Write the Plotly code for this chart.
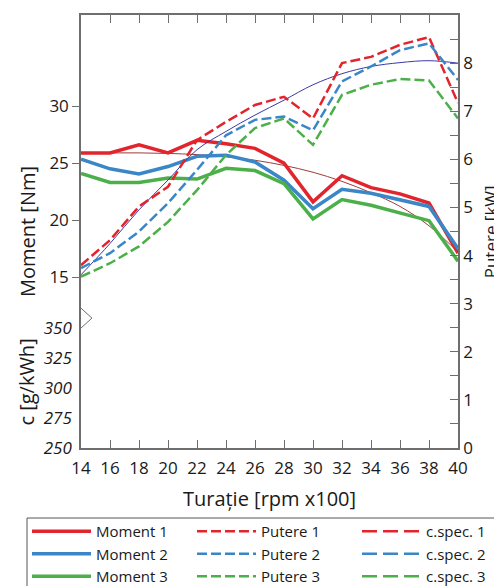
import plotly.graph_objects as go

# turatie [rpm x100]
turatie = [14, 16, 18, 20, 22, 24, 26, 28, 30, 32, 34, 36, 38, 40]

moment_1 = [25.9, 25.9, 26.6, 25.9, 27.0, 26.7, 26.3, 25.0, 21.6, 23.9, 22.85, 22.3, 21.5, 17.1]
moment_2 = [25.35, 24.5, 24.05, 24.7, 25.6, 25.7, 25.1, 23.5, 21.0, 22.7, 22.35, 21.8, 21.2, 17.5]
moment_3 = [24.1, 23.3, 23.3, 23.7, 23.6, 24.55, 24.35, 23.2, 20.1, 21.8, 21.3, 20.6, 19.95, 16.4]
moment_trend = [25.9, 25.9, 25.9, 25.85, 25.75, 25.55, 25.25, 24.8, 24.2, 23.4, 22.4, 21.2, 19.5, 17.2]

putere_1 = [3.8, 4.32, 5.02, 5.43, 6.4, 6.78, 7.13, 7.3, 6.85, 8.0, 8.13, 8.38, 8.54, 7.17]
putere_2 = [3.74, 4.05, 4.5, 5.09, 5.78, 6.5, 6.82, 6.89, 6.6, 7.62, 7.93, 8.27, 8.41, 7.65]
putere_3 = [3.56, 3.84, 4.19, 4.7, 5.36, 6.09, 6.65, 6.85, 6.3, 7.34, 7.55, 7.67, 7.64, 6.85]
putere_trend = [3.6, 4.25, 4.95, 5.57, 6.2, 6.58, 6.92, 7.23, 7.55, 7.78, 7.93, 8.01, 8.05, 8.0]

cspec_1 = [286.8, 291, 276, 272.3, 281, 288, 293, 292.3, 298, 287, 308.5, 313, 335.4, 345.7]
cspec_2 = [291.8, 280.7, 280.7, 283.5, 292.3, 298.5, 303, 310.4, 307.7, 314.6, 322.3, 321.5, 332.6, 329.8]
cspec_3 = [289.6, 283.5, 279, 284.6, 293, 298, 302, 305.7, 307.7, 302.7, 321.5, 319.6, 323.5, 341]

red = "#e2242c"
blue = "#3a86c6"
green = "#4cb04a"
font = "Open Sans"

fig = go.Figure()

# trend lines (thin)
fig.add_trace(go.Scatter(x=turatie, y=moment_trend, yaxis="y2", mode="lines",
                         line=dict(color="#a33a3a", width=1, shape="spline"),
                         showlegend=False, hoverinfo="skip"))
fig.add_trace(go.Scatter(x=turatie, y=putere_trend, yaxis="y3", mode="lines",
                         line=dict(color="#3a3aa8", width=1, shape="spline"),
                         showlegend=False, hoverinfo="skip"))

rows = [
    ("1", moment_1, putere_1, cspec_1, red),
    ("2", moment_2, putere_2, cspec_2, blue),
    ("3", moment_3, putere_3, cspec_3, green),
]
# one legend per column: Moment / Putere / c.spec.
for k, m, p, c, col in rows:
    fig.add_trace(go.Scatter(x=turatie, y=m, yaxis="y2", mode="lines", legend="legend",
                             name="Moment " + k, line=dict(color=col, width=3.5)))
    fig.add_trace(go.Scatter(x=turatie, y=p, yaxis="y3", mode="lines", legend="legend2",
                             name="Putere " + k, line=dict(color=col, width=2.5, dash="10px,4px")))
    fig.add_trace(go.Scatter(x=turatie, y=c, yaxis="y", mode="lines", legend="legend3",
                             name="c.spec. " + k, line=dict(color=col, width=2.5, dash="15px,6px")))

axis_col = "#6e6e6e"
leg = dict(orientation="v", y=-0.1547, xanchor="left", yanchor="top",
           bgcolor="rgba(0,0,0,0)", borderwidth=0, font=dict(size=15),
           itemwidth=59, traceorder="normal")

# page body has an 8px margin, so the figure is 8px smaller than the window
fig.update_layout(
    width=494, height=578,
    margin=dict(l=73, r=44, t=7, b=138, autoexpand=False),
    paper_bgcolor="white", plot_bgcolor="white",
    font=dict(family=font, size=17, color="#1a1a1a"),
    xaxis=dict(range=[14, 40], dtick=2, tick0=14, anchor="y2",
               showline=True, linecolor=axis_col, linewidth=1.5, mirror="ticks",
               ticks="inside", ticklen=8, tickcolor=axis_col, showgrid=False, zeroline=False,
               ticklabelstandoff=4,
               title=dict(text="Turație [rpm x100]", standoff=14)),
    yaxis=dict(domain=[0, 0.305], range=[250, 360], tickvals=[250, 275, 300, 325, 350],
               tickfont=dict(style="italic"), ticks="inside", ticklen=9, tickcolor=axis_col,
               ticklabelstandoff=4,
               showline=True, linecolor=axis_col, linewidth=1.5,
               showgrid=True, gridcolor="#9a9a9a", griddash="dot", gridwidth=1, zeroline=False,
               title=dict(text="c [g/kWh]", standoff=4)),
    yaxis2=dict(domain=[0, 1], range=[0, 38], tickvals=[15, 20, 25, 30], anchor="x",
                ticks="outside", ticklen=7, tickcolor=axis_col,
                showline=True, linecolor=axis_col, linewidth=1.5,
                showgrid=False, zeroline=False,
                title=dict(text="Moment [Nm]", standoff=8)),
    yaxis3=dict(overlaying="y2", side="right", range=[0, 9], dtick=1, anchor="x",
                ticks="inside", ticklen=8, tickcolor=axis_col,
                minor=dict(dtick=0.5, ticks="inside", ticklen=8, tickcolor=axis_col),
                showline=True, linecolor=axis_col, linewidth=1.5,
                showgrid=False, zeroline=False),
    legend=dict(leg, x=-0.1432),
    legend2=dict(leg, x=0.2944),
    legend3=dict(leg, x=0.7321),
    # right axis title close to the page edge, as in the original
    annotations=[dict(text="Putere [kW]", xref="paper", yref="paper", x=1.087, y=0.5,
                      textangle=-90, showarrow=False, xanchor="center", yanchor="middle",
                      font=dict(size=17))],
    shapes=[
        # axis break mark
        dict(type="path", xref="paper", yref="paper",
             path="M 0,0.323 L 0.029,0.300 L 0,0.277",
             line=dict(color=axis_col, width=1)),
        # legend frame
        dict(type="rect", xref="paper", yref="paper",
             x0=-0.1432, x1=1.25, y0=-0.1617, y1=-0.45,
             line=dict(color="#555555", width=1)),
    ],
)

fig.write_html("out.html")
